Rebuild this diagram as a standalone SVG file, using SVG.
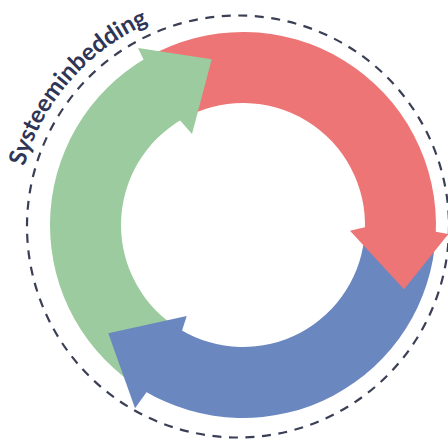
<svg xmlns="http://www.w3.org/2000/svg" width="448" height="442" viewBox="0 0 448 442">
  <style>
    .red { fill: #EE7575; }
    .blue { fill: #6B87C0; }
    .green { fill: #9CCB9F; }
    .dash { fill: none; stroke: #3B3F56; stroke-width: 2.2; stroke-dasharray: 9 7.57; }
    .label { font-family: Lato, "Open Sans", "Liberation Sans", sans-serif; font-weight: 700; fill: #2E3556; }
  </style>
  <defs>
    <path id="labelArc" d="M19.4,187.95 A222,222 0 0 1 199.45,7.9"/>
  </defs>
  <rect width="448" height="442" fill="#FFFFFF"/>
  <g id="system-boundary">
    <circle class="dash" cx="238" cy="226.5" r="211"/>
    <text class="label" font-size="24"><textPath href="#labelArc" startOffset="22">Systeeminbedding</textPath></text>
  </g>
  <g id="connectors">
    <path id="red-band" class="red" d="M146.5,57.86 A193,193 0 0 1 435.74,235.10 L364.83,231.39 A122,122 0 0 0 182,119.34 Z"/>
    <path id="blue-band" class="blue" d="M435.74,235.10 A193,193 0 0 1 143.60,390.43 L180.17,329.57 A122,122 0 0 0 364.83,231.39 Z"/>
    <path id="green-band" class="green" d="M143.60,390.43 A193,193 0 0 1 146.5,57.86 L182,119.34 A122,122 0 0 0 180.17,329.57 Z"/>
    <polygon id="red-head" class="red" points="350,230.7 364.9,227.2 435.9,231.7 448.5,234 404,289.3"/>
    <polygon id="blue-head" class="blue" points="186.7,316 182,330.66 146.5,392.14 135,408.3 108.3,333.3"/>
    <polygon id="green-head" class="green" points="192,134 180.17,120.43 143.6,59.57 138,48 211.7,59.3"/>
  </g>
</svg>
